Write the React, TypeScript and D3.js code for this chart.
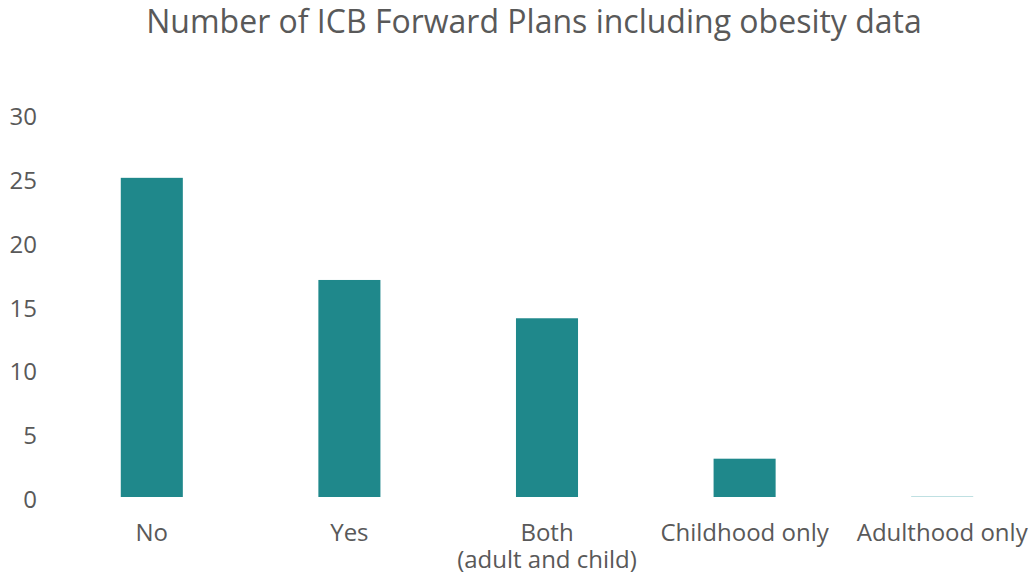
import React from "react";
import * as d3 from "d3";

const categories: string[][] = [
  ["No"],
  ["Yes"],
  ["Both", "(adult and child)"],
  ["Childhood only"],
  ["Adulthood only"],
];
const values: number[] = [25, 17, 14, 3, 0];
const yTicks: number[] = [0, 5, 10, 15, 20, 25, 30];
const title = "Number of ICB Forward Plans including obesity data";

const W = 1032;
const H = 575;
const FONT = "'Open Sans', 'Noto Sans', sans-serif";
const TEXT = "#595959";
const BAR = "#1F888B";

export default function App() {
  const keys = categories.map((c) => c.join(" "));
  const x = d3.scaleBand<string>().domain(keys).range([53, 1041]).paddingInner(0.686).paddingOuter(0.343);
  const y = d3.scaleLinear().domain([0, 30]).range([497, 114]);

  return (
    <svg width={W} height={H} style={{ position: "absolute", left: 0, top: 0, background: "#fff" }}>
      <text x={534} y={33} textAnchor="middle" fontFamily={FONT} fontSize={32} fill={TEXT}>
        {title}
      </text>
      {yTicks.map((t) => (
        <text key={t} x={37} y={y(t)} dy={11} textAnchor="end" fontFamily={FONT} fontSize={24} fill={TEXT}>
          {t}
        </text>
      ))}
      {values.map((v, i) =>
        v > 0 ? (
          <rect key={i} x={x(keys[i])} y={y(v)} width={x.bandwidth()} height={y(0) - y(v)} fill={BAR} />
        ) : (
          <rect key={i} x={x(keys[i])} y={y(0) - 1} width={x.bandwidth()} height={1} fill="#BFE0E2" />
        )
      )}
      {categories.map((lines, i) => (
        <text key={i} textAnchor="middle" fontFamily={FONT} fontSize={24} fill={TEXT}>
          {lines.map((l, j) => (
            <tspan key={j} x={(x(keys[i]) as number) + x.bandwidth() / 2} y={541 + j * 27}>
              {l}
            </tspan>
          ))}
        </text>
      ))}
    </svg>
  );
}
